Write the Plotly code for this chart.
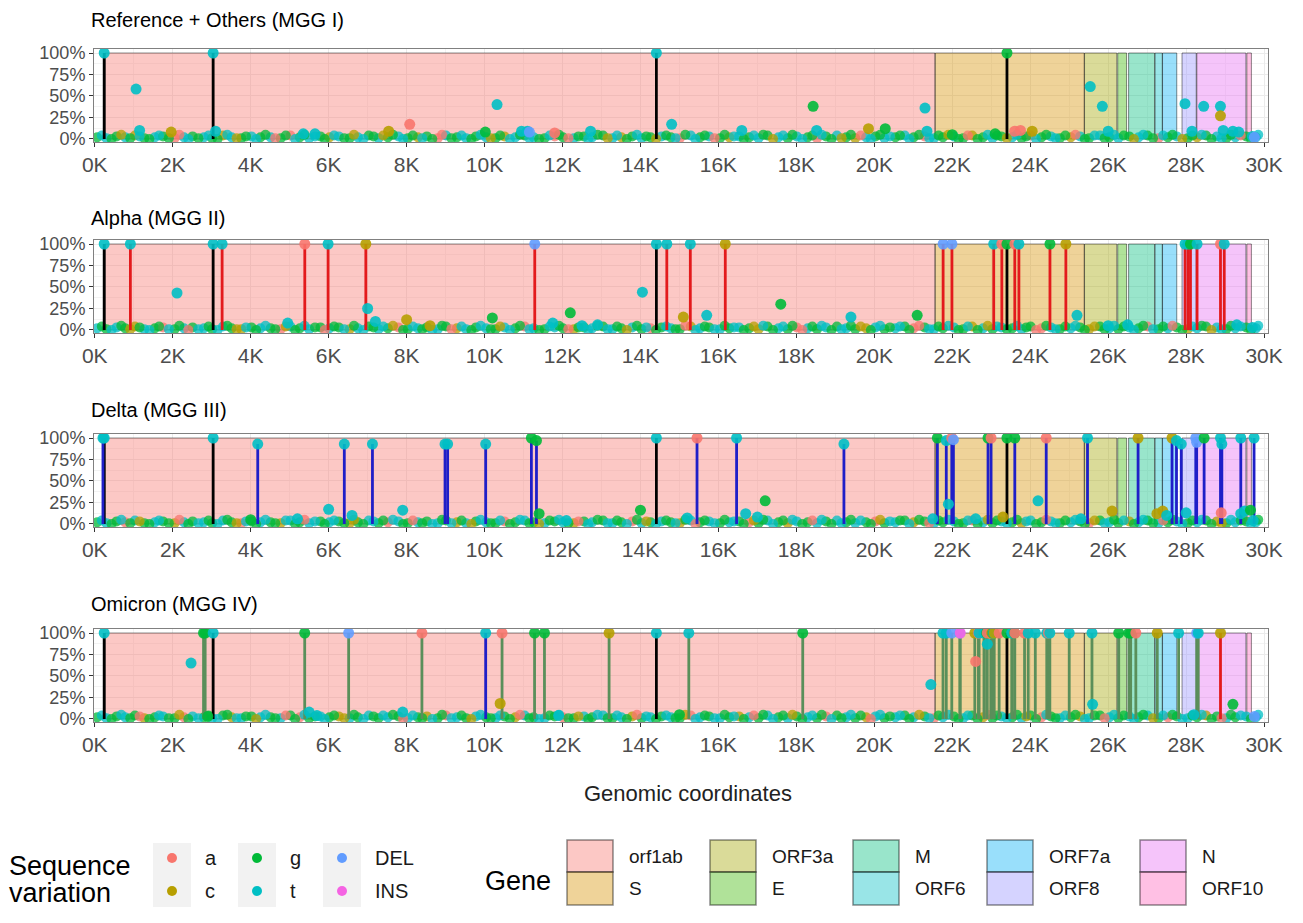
import plotly.graph_objects as go

# page is 1303x923; the browser body has an 8px margin, so the figure is inset
PAGE_W, PAGE_H, OFF = 1303, 923, 8
W, H = PAGE_W - 2 * OFF, PAGE_H - 2 * OFF
FONT = "Liberation Sans, Arial, Helvetica, sans-serif"

# ---------------- data ----------------
gene_names = ["orf1ab", "S", "ORF3a", "E", "M", "ORF6", "ORF7a", "ORF8", "N", "ORF10"]
gene_start = [266, 21563, 25393, 26245, 26523, 27202, 27394, 27894, 28274, 29558]
gene_end = [21555, 25384, 26220, 26472, 27191, 27387, 27759, 28259, 29533, 29674]
gene_colors = ["#F8766D", "#D89000", "#A3A500", "#39B600", "#00BF7D",
               "#00BFC4", "#00B0F6", "#9590FF", "#E76BF3", "#FF62BC"]

base_names = ["a", "c", "g", "t", "DEL", "INS"]
base_colors = ["#F8766D", "#B79F00", "#00BA38", "#00BFC4", "#619CFF", "#F564E3"]

group_names = ["shared", "alpha", "delta", "omicron"]
group_colors = ["#000000", "#E31A1C", "#1F1FC8", "#5A8F5A"]

panel_titles = ["Reference + Others (MGG I)", "Alpha (MGG II)", "Delta (MGG III)", "Omicron (MGG IV)"]

x_tick_vals = [0, 2000, 4000, 6000, 8000, 10000, 12000, 14000, 16000, 18000, 20000,
               22000, 24000, 26000, 28000, 30000]
x_tick_text = ["0K", "2K", "4K", "6K", "8K", "10K", "12K", "14K", "16K", "18K", "20K",
               "22K", "24K", "26K", "28K", "30K"]
x_minor_vals = [1000, 3000, 5000, 7000, 9000, 11000, 13000, 15000, 17000, 19000, 21000,
                23000, 25000, 27000, 29000]
y_tick_vals = [0, 0.25, 0.5, 0.75, 1.0]
y_tick_text = ["0%", "25%", "50%", "75%", "100%"]
y_minor_vals = [0.125, 0.375, 0.625, 0.875]

# low-frequency background sites (shared site lists)
bg_pos = [60, 300, 560, 780, 1030, 1270, 1540, 1750, 2050, 2290,
          2510, 2800, 3010, 3290, 3510, 3760, 4020, 4250, 4510, 4770,
          5020, 5260, 5500, 5790, 6020, 6260, 6540, 6750, 7030, 7280,
          7520, 7790, 8030, 8290, 8520, 8800, 9010, 9290, 9530, 9780,
          10040, 10280, 10510, 10790, 11030, 11260, 11540, 11800, 12010, 12290,
          12550, 12760, 13040, 13280, 13510, 13790, 14030, 14260, 14540, 14780,
          15010, 15290, 15530, 15760, 16040, 16280, 16530, 16790, 17030, 17260,
          17540, 17780, 18010, 18290, 18530, 18760, 19040, 19280, 19510, 19790,
          20030, 20260, 20540, 20780, 21010, 21290, 21530, 21760, 22040, 22280,
          22510, 22790, 23030, 23260, 23540, 23780, 24010, 24290, 24530, 24760,
          25040, 25280, 25510, 25790, 26030, 26260, 26540, 26780, 27010, 27290,
          27530, 27760, 28040, 28280, 28510, 28790, 29030, 29260, 29540, 29790]
bg_freq = [0.02, 0.01, 0.03, 0.02, 0.04, 0.01, 0.02, 0.03, 0.01, 0.02,
           0.03, 0.02, 0.01, 0.04, 0.02, 0.01, 0.03, 0.02, 0.02, 0.01,
           0.04, 0.02, 0.01, 0.03, 0.02, 0.03, 0.01, 0.02, 0.04, 0.01,
           0.02, 0.03, 0.01, 0.02, 0.03, 0.01, 0.04, 0.02, 0.01, 0.03,
           0.02, 0.01, 0.03, 0.02, 0.04, 0.02, 0.01, 0.03, 0.02, 0.01,
           0.03, 0.02, 0.04, 0.01, 0.02, 0.03, 0.01, 0.02, 0.03, 0.02,
           0.01, 0.04, 0.02, 0.03, 0.01, 0.02, 0.03, 0.02, 0.01, 0.04,
           0.02, 0.01, 0.03, 0.02, 0.01, 0.03, 0.04, 0.02, 0.01, 0.02,
           0.03, 0.01, 0.02, 0.04, 0.02, 0.03, 0.01, 0.02, 0.03, 0.01,
           0.04, 0.02, 0.01, 0.03, 0.02, 0.01, 0.04, 0.02, 0.03, 0.01,
           0.02, 0.03, 0.01, 0.04, 0.02, 0.01, 0.03, 0.02, 0.04, 0.01,
           0.02, 0.03, 0.01, 0.02, 0.04, 0.03, 0.01, 0.02, 0.03, 0.02]
bg2_pos = [180, 430, 680, 910, 1150, 1400, 1650, 1900, 2170, 2400,
           2660, 2920, 3150, 3400, 3640, 3880, 4140, 4380, 4630, 4900,
           5140, 5380, 5650, 5900, 6140, 6400, 6650, 6890, 7150, 7400,
           7650, 7910, 8160, 8400, 8660, 8910, 9150, 9410, 9660, 9900,
           10160, 10400, 10650, 10910, 11150, 11400, 11670, 11910, 12150, 12410,
           12660, 12900, 13160, 13400, 13650, 13910, 14150, 14400, 14660, 14900,
           15150, 15410, 15650, 15900, 16160, 16400, 16650, 16910, 17150, 17400,
           17660, 17900, 18150, 18410, 18650, 18900, 19160, 19400, 19650, 19910,
           20150, 20400, 20660, 20900, 21150, 21410, 21650, 21900, 22160, 22400,
           22650, 22910, 23150, 23400, 23660, 23900, 24150, 24410, 24650, 24900,
           25160, 25400, 25650, 25910, 26150, 26400, 26660, 26900, 27150, 27410,
           27650, 27900, 28160, 28400, 28650, 28910, 29150, 29400, 29660, 29850]
bg2_freq = [0.04, 0.00, 0.05, 0.01, 0.03, 0.00, 0.04, 0.01, 0.05, 0.00,
            0.01, 0.04, 0.00, 0.05, 0.01, 0.03, 0.00, 0.05, 0.01, 0.04,
            0.00, 0.05, 0.03, 0.00, 0.04, 0.01, 0.05, 0.00, 0.03, 0.04,
            0.05, 0.00, 0.04, 0.01, 0.00, 0.05, 0.01, 0.04, 0.00, 0.05,
            0.01, 0.04, 0.00, 0.05, 0.01, 0.00, 0.04, 0.05, 0.01, 0.03,
            0.00, 0.05, 0.01, 0.04, 0.00, 0.05, 0.03, 0.00, 0.04, 0.01,
            0.05, 0.00, 0.04, 0.01, 0.05, 0.03, 0.00, 0.04, 0.05, 0.00,
            0.04, 0.05, 0.00, 0.04, 0.05, 0.00, 0.01, 0.05, 0.04, 0.00,
            0.05, 0.03, 0.04, 0.00, 0.05, 0.01, 0.04, 0.05, 0.00, 0.04,
            0.00, 0.05, 0.04, 0.01, 0.05, 0.03, 0.00, 0.05, 0.01, 0.04,
            0.05, 0.00, 0.04, 0.01, 0.05, 0.04, 0.00, 0.05, 0.01, 0.04,
            0.05, 0.00, 0.04, 0.05, 0.00, 0.01, 0.05, 0.04, 0.00, 0.05]
p1_bg_base = ("gtgtcgtgat" "gtgctgtgtg" "agtgctgtgt" "gtgcgatgtg" "tgctgtgagt" "gtgtcgtgtg"
              "atgtgctgtg" "tgtgagtgct" "gtgtgatgtg" "cgtgtgagtg" "ctgtgtgtga" "gtgcgtgtgt")
p1_bg2_base = ("tgcgtgtgat" "gtgtcgtgag" "tgtgtgctgc" "gtgtgagtgt" "cgtgtgtgag" "tgctgtgcgt"
               "gtgagtgtgc" "tgtgtgcgat" "gtgtgtgcga" "gtgctgtgtg" "agtgtgctgt" "gcgtgtgagt")
p2_bg_base = ("tgtgctgagt" "gtgtgcgtga" "tgtgtgctgt" "gagtgtgctg" "tgtgatgtgc" "gtgtgtgagt"
              "gctgtgtgcg" "tgatgtgtgc" "tgtgagtgtg" "ctgtgtgatg" "tgcgtgtgag" "tgctgtgtgt")
p2_bg2_base = ("gtgcgtgtga" "tgtgctgtgc" "gtgagtgtgt" "cgtgtgatgt" "gctgtgtgag" "tgtgcgtgtg"
               "atgtgtgctg" "tgagtgtgcg" "tgtgatgtgt" "gctgtgagtg" "tgcgtgtgtg" "agtgctgtgt")
p3_bg_base = ("gtgatgtgct" "gtgtgagtgc" "tgtgtgcgtg" "atgtgtgctg" "tgagtgtgtc" "gtgtgatgtg"
              "ctgtgtgagt" "gctgtgtgtg" "agtgcgtgtg" "atgtgctgtg" "tgagtgctgt" "gtgtgcgtgt")
p3_bg2_base = ("tgtgcgtgag" "tgtgctgtgt" "gatgtgcgtg" "tgagtgtgct" "gtgtgcgtga" "tgtgtgctgt"
               "gagtgtgcgt" "gtgatgtgtg" "ctgtgagtgt" "gcgtgtgatg" "tgctgtgtga" "gtgtgctgtg")
p4_bg_base = ("gtgtgcgtga" "tgtgctgtgt" "gagtgctgtg" "tgtgcgatgt" "gtgctgtgag" "tgtgtcgtgt"
              "gatgtgctgt" "gtgtgagtgc" "tgtgtgatgt" "gcgtgtgagt" "gctgtgtgtg" "agtgcgtgtt")
p4_bg2_base = ("tgtgagtgcg" "tgtgtgctga" "gtgtgcgtgt" "gatgtgtgct" "gtgagtgtgc" "gtgtgatgtg"
               "ctgtgtgagt" "gcgtgtgtga" "tgtgctgtgt" "gagtgcgtgt" "gtgatgtgct" "gtgtgagtgt")

# Panel 1: Reference + Others
p1_stem_pos = [241, 3037, 14408, 23403]
p1_stem_freq = [1.0, 1.0, 1.0, 1.0]
p1_stem_group = ["shared", "shared", "shared", "shared"]
p1_stem_base = ["t", "t", "t", "g"]
p1_pt_pos = [1059, 1150, 1960, 3100, 5350, 5650, 7540, 8080, 10020, 10320,
             10950, 11100, 11150, 11800, 12720, 14800, 16600, 18430, 18520, 19850,
             20280, 21300, 21350, 22000, 23100, 23600, 23750, 24050, 25540, 25850,
             26000, 27970, 28150, 28450, 28880, 28880, 28950, 29200, 29350, 29700, 29750]
p1_pt_freq = [0.58, 0.10, 0.08, 0.09, 0.06, 0.06, 0.09, 0.17, 0.08, 0.40,
              0.09, 0.09, 0.08, 0.07, 0.09, 0.17, 0.10, 0.38, 0.10, 0.12,
              0.12, 0.36, 0.09, 0.05, 0.06, 0.09, 0.10, 0.09, 0.61, 0.38,
              0.09, 0.41, 0.09, 0.38, 0.38, 0.27, 0.10, 0.09, 0.08, 0.03, 0.02]
p1_pt_base = ["t", "t", "c", "t", "t", "t", "c", "a", "g", "t",
              "t", "t", "DEL", "a", "t", "t", "t", "g", "t", "c",
              "g", "t", "t", "g", "g", "a", "a", "c", "t", "t",
              "t", "t", "t", "t", "t", "c", "t", "t", "t", "t", "DEL"]

# Panel 2: Alpha
p2_stem_pos = [241, 913, 3037, 3267, 5388, 5986, 6954, 11288, 14408, 14676, 15279, 16176,
               21765, 21991, 23063, 23271, 23403, 23604, 23709, 24506, 24914, 27972, 28048,
               28111, 28280, 28881, 28977]
p2_stem_freq = [1.0, 1.0, 1.0, 1.0, 1.0, 1.0, 1.0, 1.0, 1.0, 1.0, 1.0, 1.0,
                1.0, 1.0, 1.0, 1.0, 1.0, 1.0, 1.0, 1.0, 1.0, 1.0, 1.0,
                1.0, 1.0, 1.0, 1.0]
p2_stem_group = ["shared", "alpha", "shared", "alpha", "alpha", "alpha", "alpha", "alpha",
                 "shared", "alpha", "alpha", "alpha", "alpha", "alpha", "alpha", "alpha",
                 "shared", "alpha", "alpha", "alpha", "alpha", "alpha", "alpha", "alpha",
                 "alpha", "alpha", "alpha"]
p2_stem_base = ["t", "t", "t", "t", "a", "t", "c", "DEL", "t", "t", "t", "c",
                "DEL", "DEL", "t", "a", "g", "a", "t", "g", "c", "t", "t",
                "g", "t", "a", "t"]
p2_pt_pos = [2110, 4950, 7000, 7200, 8000, 8600, 10200, 11750, 12200, 12500, 12900, 14050,
             15100, 15700, 17600, 19400, 21100, 25200, 26000, 26500, 29300, 29700]
p2_pt_freq = [0.43, 0.08, 0.25, 0.10, 0.12, 0.05, 0.14, 0.08, 0.20, 0.05, 0.06, 0.44,
              0.15, 0.17, 0.30, 0.15, 0.17, 0.17, 0.05, 0.06, 0.06, 0.03]
p2_pt_base = ["t", "t", "t", "t", "c", "c", "g", "t", "g", "t", "t", "t",
              "c", "t", "g", "t", "g", "t", "t", "t", "t", "t"]

# Panel 3: Delta
p3_stem_pos = [210, 241, 3037, 4181, 6402, 7124, 8986, 9053, 10029, 11201, 11332, 14408,
               15451, 16466, 19220, 21618, 21846, 21987, 22029, 22917, 22995, 23403, 23604,
               24410, 25469, 26767, 27638, 27752, 27874, 28247, 28270, 28461, 28881, 28916,
               29402, 29742]
p3_stem_freq = [1.0, 1.0, 1.0, 0.93, 0.93, 0.93, 0.93, 0.93, 0.93, 1.0, 0.97, 1.0,
                1.0, 1.0, 0.93, 1.0, 0.97, 1.0, 0.98, 1.0, 1.0, 1.0, 1.0,
                1.0, 1.0, 1.0, 1.0, 0.97, 0.93, 1.0, 0.95, 1.0, 1.0, 0.93,
                1.0, 1.0]
p3_stem_group = ["delta", "shared", "shared", "delta", "delta", "delta", "delta", "delta",
                 "delta", "delta", "delta", "shared", "delta", "delta", "delta", "delta",
                 "delta", "delta", "delta", "delta", "delta", "shared", "delta", "delta",
                 "delta", "delta", "delta", "delta", "delta", "delta", "delta", "delta",
                 "delta", "delta", "delta", "delta"]
p3_stem_base = ["t", "t", "t", "t", "t", "t", "t", "t", "t", "g", "g", "t",
                "a", "t", "t", "g", "t", "a", "DEL", "g", "a", "g", "g",
                "a", "t", "c", "c", "t", "t", "DEL", "DEL", "g", "t", "t",
                "t", "t"]
p3_pt_pos = [4000, 5200, 6000, 6600, 7900, 11400, 12100, 14000, 15200, 16700,
             17000, 17200, 21500, 21900, 22600, 23300, 24200, 25300, 26100, 27250,
             27400, 27500, 28000, 28900, 29400, 29500, 29650, 29720]
p3_pt_freq = [0.05, 0.06, 0.17, 0.10, 0.16, 0.12, 0.04, 0.16, 0.07, 0.12,
              0.08, 0.27, 0.06, 0.23, 0.06, 0.08, 0.27, 0.06, 0.15, 0.12,
              0.15, 0.10, 0.13, 0.13, 0.12, 0.15, 0.16, 0.04]
p3_pt_base = ["g", "t", "t", "t", "t", "g", "t", "g", "t", "t",
              "t", "g", "t", "t", "t", "c", "t", "t", "c", "c",
              "c", "t", "t", "a", "t", "t", "g", "t"]

# Panel 4: Omicron
p4_stem_pos = [241, 2790, 2832, 3037, 5386, 6513, 8393, 10029, 10449, 11283, 11537, 13195,
               14408, 15240, 18163, 21762, 21846, 21987, 22194, 22204, 22578, 22673, 22679,
               22686, 22813, 22882, 22898, 22992, 22995, 23013, 23040, 23048, 23055, 23063,
               23075, 23202, 23403, 23525, 23599, 23604, 23854, 23948, 24130, 24424, 24469,
               24503, 25000, 25584, 26270, 26530, 26577, 26709, 27259, 27807, 28271, 28311,
               28881]
p4_stem_freq = [1.0, 1.0, 1.0, 1.0, 1.0, 1.0, 1.0, 1.0, 1.0, 1.0, 1.0, 1.0,
                1.0, 1.0, 1.0, 1.0, 1.0, 1.0, 1.0, 1.0, 1.0, 1.0, 1.0,
                1.0, 1.0, 1.0, 1.0, 1.0, 1.0, 1.0, 1.0, 1.0, 1.0, 1.0,
                1.0, 1.0, 1.0, 1.0, 1.0, 1.0, 1.0, 1.0, 1.0, 1.0, 1.0,
                1.0, 1.0, 1.0, 1.0, 1.0, 1.0, 1.0, 1.0, 1.0, 1.0, 1.0,
                1.0]
p4_stem_group = ["shared", "omicron", "omicron", "shared", "omicron", "omicron", "omicron",
                 "delta", "omicron", "omicron", "omicron", "omicron", "shared", "omicron",
                 "omicron", "omicron", "omicron", "omicron", "omicron", "omicron", "omicron",
                 "omicron", "omicron", "omicron", "omicron", "omicron", "omicron", "omicron",
                 "omicron", "omicron", "omicron", "omicron", "omicron", "omicron", "omicron",
                 "omicron", "shared", "omicron", "omicron", "omicron", "omicron", "omicron",
                 "omicron", "omicron", "omicron", "omicron", "omicron", "omicron", "omicron",
                 "omicron", "omicron", "omicron", "omicron", "omicron", "omicron", "omicron",
                 "alpha"]
p4_stem_base = ["t", "g", "g", "t", "g", "DEL", "a", "t", "a", "g", "g", "c",
                "t", "t", "g", "t", "t", "DEL", "DEL", "INS", "c", "a", "a",
                "t", "t", "g", "a", "a", "a", "c", "g", "a", "g", "t",
                "c", "a", "g", "t", "g", "a", "a", "t", "t", "t", "a",
                "t", "t", "t", "g", "g", "g", "a", "c", "t", "DEL", "t",
                "c"]
p4_pt_pos = [2470, 2900, 5500, 5700, 7900, 10400, 11900, 15000, 21450, 22600, 22900,
             25600, 28200, 29200, 29750]
p4_pt_freq = [0.65, 0.03, 0.08, 0.04, 0.08, 0.18, 0.04, 0.05, 0.40, 0.67, 0.87,
              0.17, 0.05, 0.17, 0.03]
p4_pt_base = ["t", "g", "t", "t", "t", "c", "t", "g", "t", "a", "t",
              "t", "t", "g", "DEL"]

panels = [
    (p1_stem_pos, p1_stem_freq, p1_stem_group, p1_stem_base, p1_pt_pos, p1_pt_freq, p1_pt_base, p1_bg_base, p1_bg2_base),
    (p2_stem_pos, p2_stem_freq, p2_stem_group, p2_stem_base, p2_pt_pos, p2_pt_freq, p2_pt_base, p2_bg_base, p2_bg2_base),
    (p3_stem_pos, p3_stem_freq, p3_stem_group, p3_stem_base, p3_pt_pos, p3_pt_freq, p3_pt_base, p3_bg_base, p3_bg2_base),
    (p4_stem_pos, p4_stem_freq, p4_stem_group, p4_stem_base, p4_pt_pos, p4_pt_freq, p4_pt_base, p4_bg_base, p4_bg2_base),
]

# ---------------- helpers ----------------
base_color = dict(zip(base_names, base_colors))
group_color = dict(zip(group_names, group_colors))


def rgba(h, a):
    r, g, b = int(h[1:3], 16), int(h[3:5], 16), int(h[5:7], 16)
    return f"rgba({r},{g},{b},{a})"


def px(x):
    return (x - OFF) / W


def py(y):
    return 1 - (y - OFF) / H


panel_box = [(49, 142), (240, 333), (434, 527), (629, 722)]
title_y = [20, 218, 410, 604]
X_LEFT, X_RIGHT = 94, 1268

fig = go.Figure()
shapes = []
annotations = []
layout_axes = {}

for i, (s_pos, s_freq, s_grp, s_base, p_pos, p_freq, p_base, bg_base, bg2_base) in enumerate(panels):
    k = i + 1
    xa = "x" if k == 1 else f"x{k}"
    ya = "y" if k == 1 else f"y{k}"

    for name, s, e, col in zip(gene_names, gene_start, gene_end, gene_colors):
        shapes.append(dict(type="rect", xref=xa, yref=ya, x0=s, x1=e, y0=0, y1=1,
                           fillcolor=rgba(col, 0.4),
                           line=dict(color="rgba(0,0,0,0.45)", width=1), layer="between"))

    # background low-frequency variants
    bgx, bgy, bgc = [], [], []
    for p, f, b in list(zip(bg_pos, bg_freq, bg_base)) + list(zip(bg2_pos, bg2_freq, bg2_base)):
        bgx.append(p)
        bgy.append(f)
        bgc.append(base_color[b])
    fig.add_trace(go.Scatter(x=bgx, y=bgy, mode="markers", xaxis=xa, yaxis=ya,
                             marker=dict(color=bgc, size=10, opacity=0.75, line=dict(width=0)),
                             hoverinfo="skip", showlegend=False))

    # stems by group
    for gname in group_names:
        xs, ys = [], []
        for p, f, g in zip(s_pos, s_freq, s_grp):
            if g == gname:
                xs += [p, p, None]
                ys += [0, f, None]
        if xs:
            fig.add_trace(go.Scatter(x=xs, y=ys, mode="lines", xaxis=xa, yaxis=ya,
                                     line=dict(color=group_color[gname], width=2.8),
                                     hoverinfo="skip", showlegend=False))

    # points
    ptx = list(p_pos) + list(s_pos)
    pty = list(p_freq) + list(s_freq)
    ptc = [base_color[b] for b in p_base] + [base_color[b] for b in s_base]
    fig.add_trace(go.Scatter(x=ptx, y=pty, mode="markers", xaxis=xa, yaxis=ya,
                             marker=dict(color=ptc, size=11, opacity=0.9, line=dict(width=0)),
                             showlegend=False))

    top, bot = panel_box[i]
    common = dict(showline=True, linecolor="#808080", linewidth=1, mirror=True,
                  ticks="outside", ticklen=4, tickwidth=1, tickcolor="#333333",
                  showgrid=True, gridcolor="#EBEBEB", gridwidth=1, zeroline=False,
                  automargin=False)
    layout_axes["xaxis" if k == 1 else f"xaxis{k}"] = dict(
        domain=[px(X_LEFT), px(X_RIGHT)], anchor=ya, range=[-20, 30100],
        tickmode="array", tickvals=x_tick_vals, ticktext=x_tick_text,
        tickfont=dict(family=FONT, size=21, color="#4D4D4D"),
        minor=dict(tickmode="array", tickvals=x_minor_vals, showgrid=True,
                   gridcolor="#F3F3F3", gridwidth=0.6), **common)
    layout_axes["yaxis" if k == 1 else f"yaxis{k}"] = dict(
        domain=[py(bot), py(top)], anchor=xa, range=[-0.035, 1.0465],
        tickmode="array", tickvals=y_tick_vals, ticktext=y_tick_text,
        tickfont=dict(family=FONT, size=18, color="#4D4D4D"),
        minor=dict(tickmode="array", tickvals=y_minor_vals, showgrid=True,
                   gridcolor="#F3F3F3", gridwidth=0.6), **common)

    annotations.append(dict(text=panel_titles[i], xref="paper", yref="paper",
                            x=px(89), y=py(title_y[i]), xanchor="left", yanchor="middle",
                            showarrow=False, font=dict(family=FONT, size=20, color="#000000")))

# x-axis title
annotations.append(dict(text="Genomic coordinates", xref="paper", yref="paper",
                        x=px(688), y=py(793), xanchor="center", yanchor="middle",
                        showarrow=False, font=dict(family=FONT, size=22, color="#222222")))

# ---------------- legends (layout) ----------------
for txt, yy in (("Sequence", 866), ("variation", 893)):
    annotations.append(dict(text=txt, xref="paper", yref="paper",
                            x=px(7), y=py(yy), xanchor="left", yanchor="middle",
                            showarrow=False, font=dict(family=FONT, size=27, color="#000000")))
seq_cols_x = [153, 238, 323]
seq_rows_y = [858, 891]
for j, (name, col) in enumerate(zip(base_names, base_colors)):
    c, r = j // 2, j % 2
    x0 = seq_cols_x[c]
    if r == 0:
        shapes.append(dict(type="rect", xref="paper", yref="paper",
                           x0=px(x0), x1=px(x0 + 38), y0=py(907), y1=py(843),
                           fillcolor="#F2F2F2", line=dict(width=0), layer="below"))
    cx, cy = x0 + 19, seq_rows_y[r]
    shapes.append(dict(type="circle", xref="paper", yref="paper",
                       x0=px(cx - 5), x1=px(cx + 5), y0=py(cy + 5), y1=py(cy - 5),
                       fillcolor=col, line=dict(width=0)))
    annotations.append(dict(text=name, xref="paper", yref="paper",
                            x=px(x0 + 50), y=py(cy), xanchor="left", yanchor="middle",
                            showarrow=False, font=dict(family=FONT, size=20, color="#1A1A1A")))

annotations.append(dict(text="Gene", xref="paper", yref="paper",
                        x=px(483), y=py(881), xanchor="left", yanchor="middle",
                        showarrow=False, font=dict(family=FONT, size=27, color="#000000")))
gene_cols_x = [567, 710, 853, 987, 1140]
gene_rows = [(840, 872), (872, 905)]
for j, (name, col) in enumerate(zip(gene_names, gene_colors)):
    c, r = j // 2, j % 2
    x0 = gene_cols_x[c]
    y0, y1 = gene_rows[r]
    shapes.append(dict(type="rect", xref="paper", yref="paper",
                       x0=px(x0), x1=px(x0 + 46), y0=py(y1), y1=py(y0),
                       fillcolor=rgba(col, 0.4), line=dict(color="rgba(0,0,0,0.45)", width=1.5)))
    annotations.append(dict(text=name, xref="paper", yref="paper",
                            x=px(x0 + 60), y=py((y0 + y1) / 2), xanchor="left", yanchor="middle",
                            showarrow=False, font=dict(family=FONT, size=19, color="#1A1A1A")))

fig.update_layout(width=W, height=H, margin=dict(l=0, r=0, t=0, b=0, autoexpand=False),
                  paper_bgcolor="white", plot_bgcolor="white", showlegend=False,
                  shapes=shapes, annotations=annotations, font=dict(family=FONT),
                  **layout_axes)

fig.write_html("out.html")
